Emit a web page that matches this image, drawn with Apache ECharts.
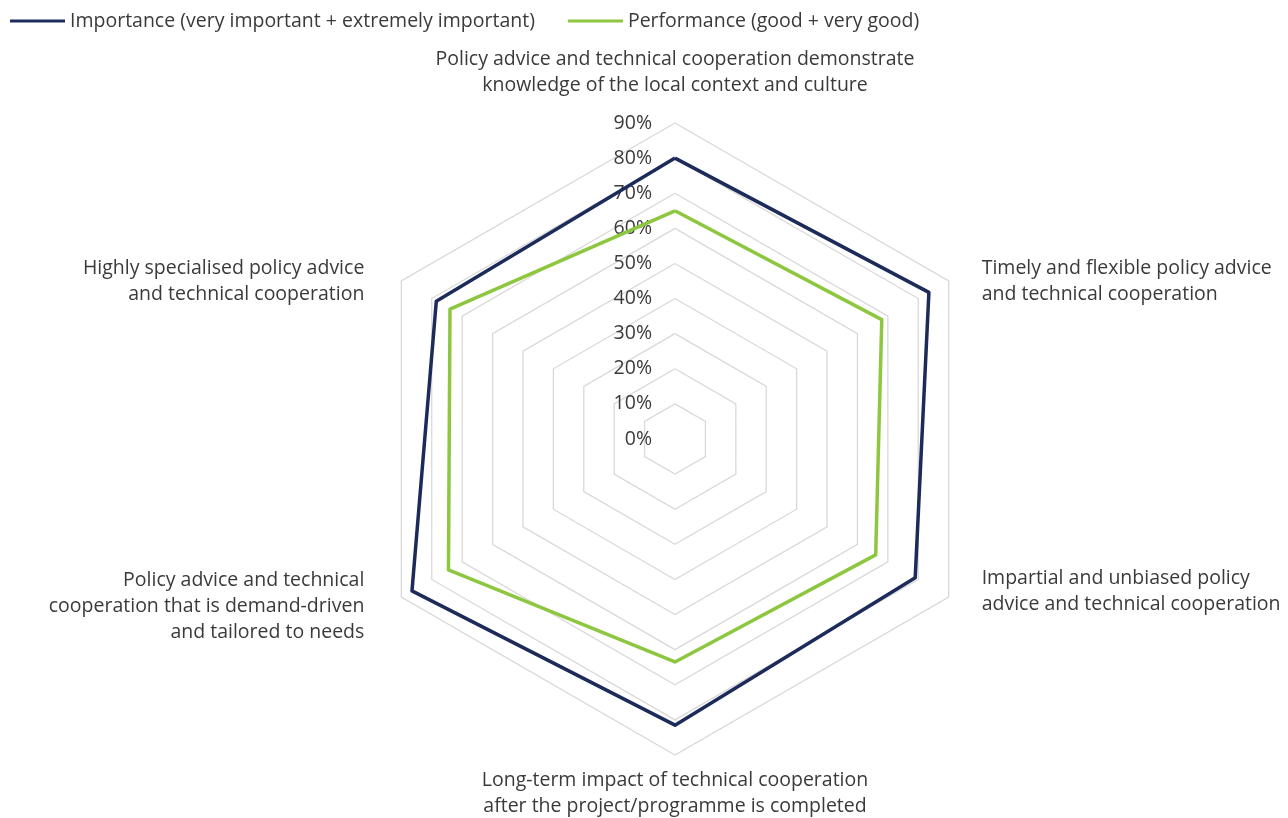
<!DOCTYPE html>
<html>
<head>
<meta charset="utf-8">
<script src="https://cdn.jsdelivr.net/npm/echarts@6/dist/echarts.min.js"></script>
<style>
  html, body { margin: 0; padding: 0; background: #fff; }
  #chart { width: 1288px; height: 818px; }
</style>
</head>
<body>
<div id="chart"></div>
<script>
// indicators in counter-clockwise order, starting at the top
const categories = [
  'Policy advice and technical cooperation demonstrate\nknowledge of the local context and culture',
  'Highly specialised policy advice\nand technical cooperation',
  'Policy advice and technical\ncooperation that is demand-driven\nand tailored to needs',
  'Long-term impact of technical cooperation\nafter the project/programme is completed',
  'Impartial and unbiased policy\nadvice and technical cooperation',
  'Timely and flexible policy advice\nand technical cooperation'
]
const importance = [80, 78.5, 86.5, 81.5, 79, 83.5]
const performance = [65, 74, 74.5, 63.5, 66, 68]
const seriesNames = [
  'Importance (very important + extremely important)',
  'Performance (good + very good)'
]
const colors = ['#1d2b5a', '#8dc63f']

const font = '"Open Sans", "Noto Sans", sans-serif'
const fontSize = 19.5
const textColor = '#3a3a3a'

// name label placement per indicator: horizontal padding, spacer line above / below
const nameLayout = [
  { pad: [0, 0, 0, 0], above: 0, below: 15 },
  { pad: [0, 37, 0, 0], above: 0, below: 0 },
  { pad: [0, 37, 0, 0], above: 18, below: 0 },
  { pad: [0, 0, 0, 0], above: 12, below: 0 },
  { pad: [0, 0, 0, 33], above: 0, below: 12 },
  { pad: [0, 0, 0, 33], above: 0, below: 0 }
]
const rich = {}
nameLayout.forEach((l, i) => {
  rich['n' + i] = { padding: l.pad, fontSize, fontFamily: font, color: textColor, lineHeight: 26 }
  rich['a' + i] = { fontSize: 1, lineHeight: l.above }
  rich['b' + i] = { fontSize: 1, lineHeight: l.below }
})

const chart = echarts.init(document.getElementById('chart'))
chart.setOption({
  animation: false,
  color: colors,
  textStyle: { fontFamily: font },
  legend: {
    left: 5,
    top: 6,
    icon: 'rect',
    itemWidth: 55,
    itemHeight: 3,
    itemGap: 33,
    textStyle: { fontSize, color: textColor, fontFamily: font },
    data: seriesNames
  },
  radar: {
    center: [675, 439],
    radius: 316,
    startAngle: 90,
    splitNumber: 9,
    shape: 'polygon',
    nameGap: 0,
    axisName: {
      color: textColor,
      fontSize,
      fontFamily: font,
      lineHeight: 26,
      rich,
      formatter: (name) => {
        const i = categories.indexOf(name)
        const l = nameLayout[i]
        const lines = name.split('\n').map(line => '{n' + i + '|' + line + '}')
        if (l.above) lines.unshift('{a' + i + '| }')
        if (l.below) lines.push('{b' + i + '| }')
        return lines.join('\n')
      }
    },
    axisLine: { show: false },
    axisTick: { show: false },
    splitLine: { lineStyle: { color: '#d9d9d9', width: 1.3 } },
    splitArea: { show: false },
    axisLabel: {
      show: true,
      formatter: '{value}%',
      color: textColor,
      fontSize,
      fontFamily: font,
      margin: 23
    },
    indicator: categories.map((name, i) => {
      const ind = { name, min: 0, max: 90 }
      if (i > 0) ind.axisLabel = { show: false }
      return ind
    })
  },
  series: [{
    type: 'radar',
    symbol: 'none',
    data: [
      { name: seriesNames[0], value: importance, lineStyle: { width: 3.5, color: colors[0] } },
      { name: seriesNames[1], value: performance, lineStyle: { width: 3.5, color: colors[1] } }
    ]
  }]
})
</script>
</body>
</html>
